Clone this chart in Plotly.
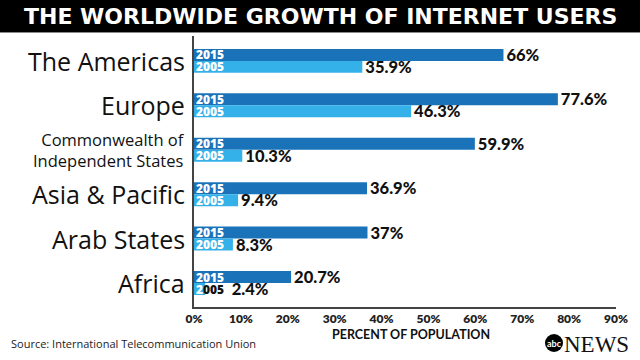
import plotly.graph_objects as go

regions = ["The Americas", "Europe", "Commonwealth of<br>Independent States",
           "Asia & Pacific", "Arab States", "Africa"]
region_font_sizes = [25, 25, 16.5, 25, 25, 25]
vals_2015 = [66, 77.6, 59.9, 36.9, 37, 20.7]
vals_2005 = [35.9, 46.3, 10.3, 9.4, 8.3, 2.4]
labels_2015 = ["66%", "77.6%", "59.9%", "36.9%", "37%", "20.7%"]
labels_2005 = ["35.9%", "46.3%", "10.3%", "9.4%", "8.3%", "\u00a0" * 6 + "2.4%"]
x_ticks = [0, 10, 20, 30, 40, 50, 60, 70, 80, 90]
x_ticklabels = [f"{t}%" for t in x_ticks]

C2015 = "#1a73b9"
C2005 = "#35b1e9"
BOLD = "Lato, 'Open Sans', sans-serif"
REG = "'Open Sans', Lato, sans-serif"

# plot area in pixels (for placing page-level texts)
L, R, T, B = 194, 24, 36, 53
PW, PH = 640 - L - R, 360 - T - B

ypos = list(range(len(regions)))

fig = go.Figure()
fig.add_trace(go.Bar(
    y=ypos, x=vals_2015, orientation="h", name="2015",
    marker=dict(color=C2015, line=dict(width=0)),
    text=labels_2015, textposition="outside", constraintext="none",
    textfont=dict(family=BOLD, size=16.5, color="#111", weight=900),
    cliponaxis=False, hoverinfo="skip",
))
fig.add_trace(go.Bar(
    y=ypos, x=vals_2005, orientation="h", name="2005",
    marker=dict(color=C2005, line=dict(width=0)),
    text=labels_2005, textposition="outside", constraintext="none",
    textfont=dict(family=BOLD, size=16.5, color="#111", weight=900),
    cliponaxis=False, hoverinfo="skip",
))

annotations = []
for i, r in enumerate(regions):
    annotations.append(dict(
        x=0, xref="paper", y=i, yref="y", text=r, showarrow=False,
        xanchor="right", xshift=-7, yanchor="middle",
        align="right",
        font=dict(family=REG, size=region_font_sizes[i], color="#111"),
    ))
    for yr, sh, v in (("2015", 6, vals_2015[i]), ("2005", -6, vals_2005[i])):
        if v > 6:
            txt, col = yr, "white"
        else:
            txt, col = f"<span style='color:white'>{yr[0]}</span>{yr[1:]}", "#111"
        annotations.append(dict(
            x=0, xref="x", y=i, yref="y", text=txt, showarrow=False,
            xanchor="left", xshift=0, yshift=sh, yanchor="middle",
            font=dict(family=REG, size=12, color=col, weight=800),
        ))

annotations += [
    dict(x=(320 - L) / PW, y=1, xref="paper", yref="paper", xanchor="center",
         yanchor="middle", yshift=20,
         text="THE WORLDWIDE GROWTH OF INTERNET USERS", showarrow=False,
         font=dict(family="'DejaVu Sans', sans-serif", size=22, color="white", weight=700)),
    dict(x=0.5, xref="paper", y=0, yref="paper", yshift=-27, xshift=6, yanchor="middle",
         text="PERCENT OF POPULATION", showarrow=False,
         font=dict(family=BOLD, size=12.5, color="#111", weight=700)),
    dict(x=0, xref="paper", y=0, yref="paper", xshift=-185, yshift=-36,
         xanchor="left", yanchor="middle",
         text="Source: International Telecommunication Union", showarrow=False,
         font=dict(family=REG, size=11, color="#222")),
    dict(x=1, xref="paper", y=0, yref="paper", xshift=-62, yshift=-36,
         xanchor="center", yanchor="middle", text="abc", showarrow=False,
         font=dict(family=BOLD, size=9, color="white", weight=700)),
    dict(x=1, xref="paper", y=0, yref="paper", xshift=-54, yshift=-37,
         xanchor="left", yanchor="middle", text="NEWS", showarrow=False,
         font=dict(family="'Liberation Serif', 'DejaVu Serif', serif", size=23, color="#111")),
]

shapes = [
    dict(type="rect", xref="paper", yref="paper", x0=-0.5, x1=1.1,
         y0=1 + 4 / PH, y1=1.2, fillcolor="black", line=dict(width=0), layer="below"),
    dict(type="line", xref="paper", yref="paper", x0=-0.5, x1=1.1,
         y0=1 + 3.5 / PH, y1=1 + 3.5 / PH, line=dict(color="#888", width=1)),
    dict(type="circle", xref="paper", yref="paper",
         x0=1 + (545 - (640 - R)) / PW, x1=1 + (563 - (640 - R)) / PW,
         y0=(307 - 334) / PH, y1=(307 - 352) / PH,
         fillcolor="black", line=dict(width=0)),
]

fig.update_layout(
    width=640, height=360,
    margin=dict(l=L, r=R, t=T, b=B),
    paper_bgcolor="white", plot_bgcolor="white",
    barmode="group", bargap=0.46, bargroupgap=0,
    showlegend=False,
    xaxis=dict(range=[0, 90], tickvals=x_ticks, ticktext=x_ticklabels,
               showgrid=False, zeroline=False, showline=True, linecolor="#444",
               linewidth=1.5, ticks="", fixedrange=True,
               tickfont=dict(family=BOLD, size=12, color="#222", weight=800)),
    yaxis=dict(range=[5.54, -0.56], showticklabels=False, showgrid=False,
               zeroline=False, showline=True, linecolor="#444", linewidth=1.5,
               ticks="", fixedrange=True),
    annotations=annotations, shapes=shapes,
)

fig.write_html("out.html", config=dict(displayModeBar=False),
               post_script="document.body.style.margin='0';document.body.style.overflow='hidden';")
